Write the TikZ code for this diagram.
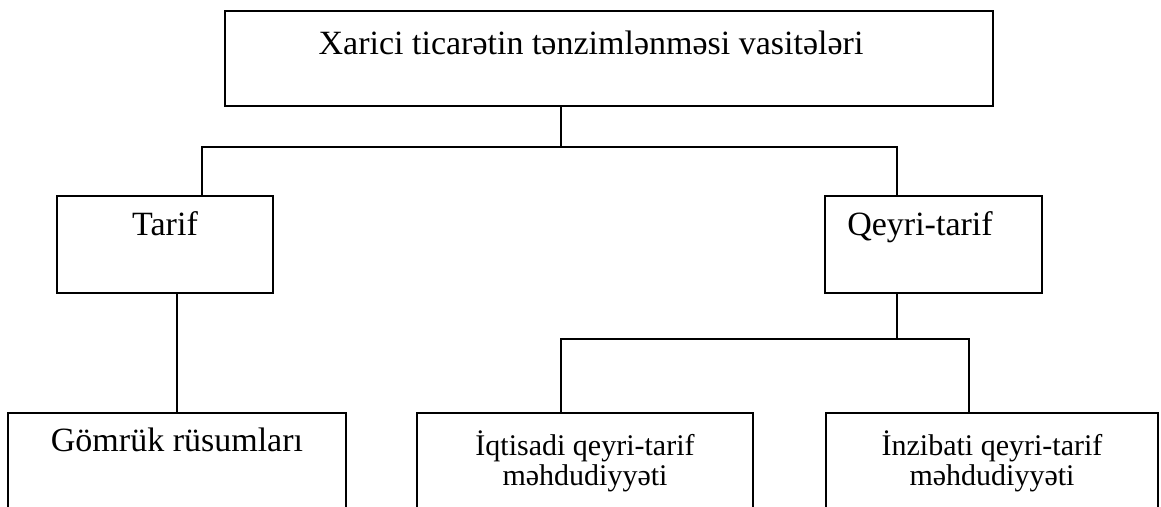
\documentclass[tikz,border=0pt]{standalone}
\usepackage{fontspec}
\setmainfont{Liberation Serif}
\usetikzlibrary{positioning}
\tikzset{
  box/.style={rectangle, draw=black, line width=1.5pt, inner sep=0pt, align=center, anchor=north, font=\fontsize{34}{40}\selectfont},
  smallbox/.style={box, font=\fontsize{30}{30}\selectfont},
  link/.style={line width=1.5pt},
}

\begin{document}
\begin{tikzpicture}[x=1pt, y=-1pt]
\useasboundingbox (0,0) rectangle (1161,506);
\clip (0,0) rectangle (1161,506);

\node[box, minimum width=768pt, text height=44pt, text depth=51pt] (root) at (609,10) {Xarici ticarətin tənzimlənməsi vasitələri\hspace*{36pt}};
\node[box, minimum width=216pt, text height=40pt, text depth=57pt] (tarif) at (165,195) {Tarif};
\node[box, minimum width=217pt, text height=40pt, text depth=57pt] (qeyri) at (933.5,195) {Qeyri-tarif\hspace*{27pt}};
\node[box, minimum width=338pt, text height=39pt, text depth=100pt] (gomruk) at (177,412) {Gömrük rüsumları};
\node[smallbox, minimum width=336pt, text height=73pt, text depth=70pt] (iqtisadi) at (585,412) {İqtisadi qeyri-tarif\\məhdudiyyəti};
\node[smallbox, minimum width=332pt, text height=73pt, text depth=70pt] (inzibati) at (992,412) {İnzibati qeyri-tarif\\məhdudiyyəti};

\coordinate (ja) at (561,147);
\coordinate (jt) at (202,147);
\coordinate (jq) at (897,147);
\coordinate (jb) at (897,339);
\coordinate (jl) at (561,339);
\coordinate (jr) at (969,339);

\draw[link] (root.south -| ja) -- (ja);
\draw[link] (tarif.north -| jt) -- (jt) -- (jq) -- (qeyri.north -| jq);
\draw[link] (tarif.south -| gomruk.north) -- (gomruk.north);
\draw[link] (qeyri.south -| jb) -- (jb);
\draw[link] (iqtisadi.north -| jl) -- (jl) -- (jr) -- (inzibati.north -| jr);
\end{tikzpicture}
\end{document}
